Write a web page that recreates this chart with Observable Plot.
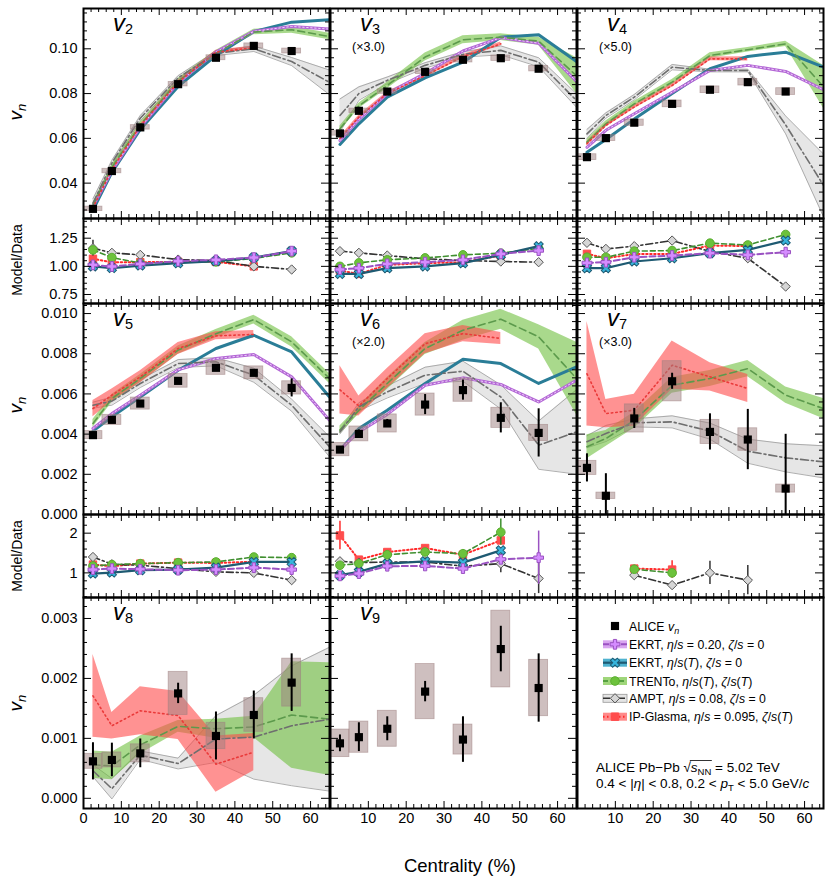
<!DOCTYPE html>
<html><head><meta charset="utf-8">
<script src="https://cdn.jsdelivr.net/npm/d3@7"></script>
<script src="https://cdn.jsdelivr.net/npm/@observablehq/plot@0.6"></script>
<style>
body{margin:0;background:#fff;}
#fig{position:relative;width:831px;height:885px;font-family:"Liberation Sans",Arial,Helvetica,sans-serif;color:#000;overflow:hidden;}
#fig svg{position:absolute;overflow:visible;}
</style></head>
<body><div id="fig"></div>
<script>
// ================= DATA =================
const cent = [2.5, 7.5, 15, 25, 35, 45, 55];
const centModel = [2.5, 7.5, 15, 25, 35, 45, 55, 65];
const centIPG = [2.5, 7.5, 15, 25, 35, 45];
const centR6T = [2.5, 7.5, 15, 25, 35, 45];
const centR7a = [15, 25, 35, 45];
const centR7b = [15, 25];
const xTickLabels = [0, 10, 20, 30, 40, 50, 60];
const xTickLabelsNoZero = [10, 20, 30, 40, 50, 60];
const yTicksRow1 = [0.04, 0.06, 0.08, 0.10];
const yTicksRatio1 = [0.75, 1.00, 1.25];
const yTicksRow2 = [0.000, 0.002, 0.004, 0.006, 0.008, 0.010];
const yTicksRatio2 = [1, 2];
const yTicksRow3 = [0.000, 0.001, 0.002, 0.003];
const panelNames = ["2", "3", "4", "5", "6", "7", "8", "9"];
const scaleNotes = ["", "(\u00d73.0)", "(\u00d75.0)", "", "(\u00d72.0)", "(\u00d73.0)", "", ""];

// v2 (as plotted)
const v2_alice = [0.0285, 0.0454, 0.0649, 0.0842, 0.0960, 0.1013, 0.0990];
const v2_stat  = [0.0002, 0.0002, 0.0002, 0.0002, 0.0003, 0.0003, 0.0005];
const v2_sys   = [0.0010, 0.0010, 0.0010, 0.0010, 0.0011, 0.0011, 0.0011];
const v2_ekrt020 = [0.0295, 0.0455, 0.0650, 0.0848, 0.0985, 0.1078, 0.1100, 0.1088];
const v2_ekrtT   = [0.0280, 0.0448, 0.0640, 0.0832, 0.0970, 0.1077, 0.1119, 0.1130];
const v2_trento  = [0.0300, 0.0470, 0.0660, 0.0855, 0.0980, 0.1075, 0.1085, 0.1055];
const v2_trentoE = [0.0012, 0.0012, 0.0012, 0.0012, 0.0012, 0.0012, 0.0015, 0.0015];
const v2_ampt    = [0.0310, 0.0490, 0.0690, 0.0870, 0.0980, 0.1000, 0.0943, 0.0850];
const v2_amptE   = [0.0020, 0.0012, 0.0012, 0.0010, 0.0010, 0.0012, 0.0018, 0.0055];
const v2_ipg     = [0.0290, 0.0460, 0.0655, 0.0850, 0.0985, 0.1005];
const v2_ipgE    = [0.0008, 0.0008, 0.0008, 0.0008, 0.0008, 0.0008];
// v3 (x3.0, as plotted)
const v3_alice = [0.0622, 0.0723, 0.0809, 0.0897, 0.0951, 0.0958, 0.0911];
const v3_stat  = [0.0003, 0.0003, 0.0003, 0.0003, 0.0003, 0.0004, 0.0005];
const v3_sys   = [0.0010, 0.0010, 0.0010, 0.0010, 0.0012, 0.0012, 0.0012];
const v3_ekrt020 = [0.0590, 0.0685, 0.0800, 0.0890, 0.0990, 0.1050, 0.1025, 0.0854];
const v3_ekrtT   = [0.0573, 0.0665, 0.0784, 0.0870, 0.0940, 0.1052, 0.1063, 0.0943];
const v3_trento  = [0.0643, 0.0745, 0.0836, 0.0963, 0.1040, 0.1052, 0.1034, 0.0880];
const v3_trentoE = [0.0012, 0.0012, 0.0015, 0.0018, 0.0018, 0.0015, 0.0018, 0.0080];
const v3_ampt    = [0.0702, 0.0800, 0.0859, 0.0926, 0.0975, 0.0993, 0.0940, 0.0769];
const v3_amptE   = [0.0074, 0.0030, 0.0015, 0.0012, 0.0012, 0.0020, 0.0020, 0.0030];
const v3_ipg     = [0.0600, 0.0695, 0.0800, 0.0880, 0.0965, 0.1022];
const v3_ipgE    = [0.0008, 0.0008, 0.0008, 0.0008, 0.0008, 0.0008];
// v4 (x5.0, as plotted)
const v4_alice = [0.0516, 0.0601, 0.0670, 0.0754, 0.0817, 0.0851, 0.0809];
const v4_stat  = [0.0003, 0.0003, 0.0003, 0.0003, 0.0004, 0.0005, 0.0006];
const v4_sys   = [0.0013, 0.0013, 0.0014, 0.0015, 0.0015, 0.0015, 0.0015];
const v4_ekrt020 = [0.0560, 0.0636, 0.0710, 0.0806, 0.0903, 0.0926, 0.0899, 0.0817];
const v4_ekrtT   = [0.0538, 0.0595, 0.0686, 0.0800, 0.0911, 0.0966, 0.0985, 0.0918];
const v4_trento  = [0.0583, 0.0665, 0.0754, 0.0851, 0.0970, 0.0996, 0.1022, 0.0830];
const v4_trentoE = [0.0012, 0.0012, 0.0012, 0.0012, 0.0012, 0.0010, 0.0012, 0.0095];
const v4_ampt    = [0.0620, 0.0702, 0.0784, 0.0918, 0.0903, 0.0903, 0.0660, 0.0390];
const v4_amptE   = [0.0020, 0.0012, 0.0012, 0.0012, 0.0006, 0.0006, 0.0040, 0.0140];
const v4_ipg     = [0.0576, 0.0658, 0.0740, 0.0836, 0.0955, 0.0955];
const v4_ipgE    = [0.0010, 0.0008, 0.0008, 0.0008, 0.0008, 0.0010];
// v5
const v5_alice = [0.00395, 0.00471, 0.00552, 0.00665, 0.00730, 0.00705, 0.00630];
const v5_stat  = [0.00005, 0.00005, 0.00005, 0.00006, 0.00008, 0.00010, 0.00045];
const v5_sys   = [0.00020, 0.00025, 0.00030, 0.00034, 0.00035, 0.00032, 0.00033];
const v5_ekrt020 = [0.00428, 0.00502, 0.00594, 0.00720, 0.00776, 0.00796, 0.00685, 0.00469];
const v5_ekrtT   = [0.00415, 0.00486, 0.00585, 0.00718, 0.00826, 0.00892, 0.00809, 0.00585];
const v5_trento  = [0.00453, 0.00577, 0.00677, 0.00818, 0.00900, 0.00970, 0.00859, 0.00677];
const v5_trentoE = [0.00020, 0.00020, 0.00020, 0.00020, 0.00020, 0.00022, 0.00025, 0.00025];
const v5_ampt    = [0.00544, 0.00564, 0.00652, 0.00751, 0.00760, 0.00693, 0.00544, 0.00337];
const v5_amptE   = [0.00015, 0.00020, 0.00020, 0.00020, 0.00020, 0.00035, 0.00030, 0.00050];
const v5_ipg     = [0.00527, 0.00594, 0.00685, 0.00826, 0.00889, 0.00896];
const v5_ipgE    = [0.00040, 0.00030, 0.00030, 0.00030, 0.00020, 0.00020];
// v6 (x2.0, as plotted)
const v6_alice = [0.00323, 0.00401, 0.00453, 0.00547, 0.00619, 0.00481, 0.00406];
const v6_stat  = [0.00010, 0.00020, 0.00020, 0.00050, 0.00050, 0.00075, 0.00120];
const v6_sys   = [0.00033, 0.00037, 0.00045, 0.00055, 0.00058, 0.00050, 0.00040];
const v6_ekrt020 = [0.00323, 0.00411, 0.00498, 0.00643, 0.00680, 0.00647, 0.00560, 0.00668];
const v6_ekrtT   = [0.00320, 0.00428, 0.00519, 0.00652, 0.00773, 0.00751, 0.00652, 0.00735];
const v6_trento  = [0.00420, 0.00519, 0.00652, 0.00826, 0.00917, 0.00972, 0.00884, 0.00677];
const v6_trentoE = [0.00020, 0.00020, 0.00030, 0.00030, 0.00050, 0.00050, 0.00060, 0.00180];
const v6_ampt    = [0.00411, 0.00536, 0.00610, 0.00693, 0.00713, 0.00585, 0.00345, 0.00411];
const v6_amptE   = [0.00010, 0.00020, 0.00030, 0.00040, 0.00050, 0.00060, 0.00120, 0.00210];
const v6_ipg     = [0.00620, 0.00540, 0.00677, 0.00850, 0.00900, 0.00876];
const v6_ipgE    = [0.00120, 0.00050, 0.00050, 0.00050, 0.00040, 0.00030];
// v7 (x3.0, as plotted)
const v7_alice = [0.00232, 0.00093, 0.00478, 0.00663, 0.00411, 0.00373, 0.00129];
const v7_stat  = [0.00070, 0.00110, 0.00050, 0.00040, 0.00090, 0.00150, 0.00270];
const v7_sys   = [0.00035, 0.00016, 0.00070, 0.00100, 0.00060, 0.00056, 0.00020];
const v7_trento  = [0.00337, 0.00378, 0.00469, 0.00643, 0.00677, 0.00726, 0.00594, 0.00527];
const v7_trentoE = [0.00060, 0.00040, 0.00040, 0.00040, 0.00040, 0.00040, 0.00040, 0.00050];
const v7_ampt    = [0.00362, 0.00403, 0.00456, 0.00461, 0.00415, 0.00315, 0.00282, 0.00262];
const v7_amptE   = [0.00030, 0.00040, 0.00020, 0.00030, 0.00040, 0.00060, 0.00070, 0.00080];
const v7_ipg     = [0.00700, 0.00502, 0.00519, 0.00743, 0.00685, 0.00627];
const v7_ipgE    = [0.00260, 0.00070, 0.00080, 0.00120, 0.00070, 0.00070];
// v8
const v8_alice = [0.000617, 0.00064, 0.00075, 0.00175, 0.00104, 0.00139, 0.00193];
const v8_stat  = [0.00031, 0.00028, 0.00024, 0.00017, 0.00040, 0.00040, 0.00048];
const v8_sys   = [0.000125, 0.000125, 0.00015, 0.00036, 0.00022, 0.00028, 0.00040];
const v8_trento  = [0.00056, 0.00054, 0.00089, 0.00120, 0.00116, 0.00119, 0.00139, 0.00132];
const v8_trentoE = [0.00023, 0.00023, 0.00015, 0.00010, 0.00016, 0.00018, 0.00089, 0.00094];
const v8_ampt    = [0.00046, 0.00016, 0.00072, 0.00058, 0.00099, 0.00102, 0.00121, 0.00132];
const v8_amptE   = [0.00010, 0.00017, 0.00007, 0.00009, 0.00039, 0.00070, 0.00100, 0.00120];
const v8_ipg     = [0.00171, 0.00121, 0.00146, 0.00138, 0.00057, 0.00077];
const v8_ipgE    = [0.00069, 0.00022, 0.00040, 0.00040, 0.00047, 0.00031];
// v9
const v9_alice = [0.000917, 0.00102, 0.00116, 0.00178, 0.00098, 0.00249, 0.00184];
const v9_stat  = [0.00014, 0.00024, 0.00020, 0.00017, 0.00038, 0.00038, 0.00057];
const v9_sys   = [0.00023, 0.00026, 0.00030, 0.00046, 0.00025, 0.00064, 0.00047];

// Model/Data ratios
const r2_ekrt020 = [1.013, 0.999, 1.022, 1.046, 1.058, 1.078, 1.135];
const r2_ekrtT   = [1.000, 0.985, 1.007, 1.028, 1.046, 1.078, 1.135];
const r2_trento  = [1.146, 1.078, 1.030, 1.035, 1.040, 1.070, 1.120];
const r2_ampt    = [1.161, 1.120, 1.102, 1.060, 1.052, 1.000, 0.972];
const r2_amptE   = [0.070, 0, 0, 0, 0, 0, 0];
const r2_ipg     = [1.067, 1.037, 1.037, 1.040, 1.040, 1.000];
const r3_ekrt020 = [0.972, 0.984, 1.022, 1.037, 1.058, 1.111, 1.140];
const r3_ekrtT   = [0.933, 0.933, 0.984, 0.999, 1.028, 1.102, 1.179];
const r3_trento  = [1.000, 1.031, 1.058, 1.075, 1.102, 1.117, 1.160];
const r3_ampt    = [1.135, 1.120, 1.096, 1.067, 1.052, 1.043, 1.037];
const r3_ipg     = [0.963, 0.933, 1.013, 1.028, 1.037, 1.096];
const r4_ekrt020 = [1.031, 1.037, 1.081, 1.096, 1.117, 1.102, 1.126];
const r4_ekrtT   = [0.984, 0.984, 1.043, 1.072, 1.117, 1.146, 1.229];
const r4_trento  = [1.081, 1.081, 1.135, 1.140, 1.206, 1.190, 1.283];
const r4_ampt    = [1.209, 1.155, 1.179, 1.229, 1.132, 1.072, 0.821];
const r4_ipg     = [1.111, 1.072, 1.110, 1.110, 1.185, 1.180];
const r5_ekrt020 = [1.083, 1.108, 1.092, 1.067, 1.083, 1.133, 1.083];
const r5_ekrtT   = [0.983, 1.008, 1.067, 1.083, 1.133, 1.275, 1.275];
const r5_trento  = [1.175, 1.208, 1.233, 1.258, 1.275, 1.400, 1.383];
const r5_ampt    = [1.400, 1.217, 1.192, 1.108, 1.025, 1.000, 0.817];
const r5_ipg     = [1.208, 1.167, 1.233, 1.258, 1.250, 1.280];
const r6_ekrt020 = [0.925, 0.983, 1.167, 1.175, 1.108, 1.342, 1.383];
const r6_ekrt020E = [0, 0, 0, 0, 0, 0.08, 0.67];
const r6_ekrtT   = [0.942, 1.025, 1.233, 1.292, 1.258, 1.567];
const r6_trento  = [1.192, 1.233, 1.458, 1.525, 1.483, 2.025];
const r6_trentoE = [0.05, 0.05, 0.05, 0.06, 0.08, 0.33];
const r6_ampt    = [1.292, 1.258, 1.275, 1.275, 1.167, 1.233, 0.858];
const r6_amptE   = [0, 0, 0, 0, 0, 0.23, 0.38];
const r6_ipg     = [1.942, 1.333, 1.525, 1.625, 1.458, 1.817];
const r6_ipgE    = [0.36, 0.06, 0.06, 0.08, 0.08, 0.08];
const r7_ampt    = [0.942, 0.692, 1.000, 0.817];
const r7_amptE   = [0.08, 0.08, 0.29, 0.37];
const r7_ipg     = [1.108, 1.083];
const r7_ipgE    = [0.08, 0.22];
const r7_trento  = [1.092, 1.000];
const r7_trentoE = [0.10, 0.05];

// Legend
const legendKeys = ["alice", "ekrt020", "ekrtT", "trento", "ampt", "ipg"];
const legendLabels = [
  ["ALICE ", {t: "v", i: 1}, {t: "n", i: 1, sub: 1}],
  ["EKRT, ", {t: "\u03b7", i: 1}, "/", {t: "s", i: 1}, " = 0.20, ", {t: "\u03b6", i: 1}, "/", {t: "s", i: 1}, " = 0"],
  ["EKRT, ", {t: "\u03b7", i: 1}, "/", {t: "s", i: 1}, "(", {t: "T", i: 1}, "), ", {t: "\u03b6", i: 1}, "/", {t: "s", i: 1}, " = 0"],
  ["TRENTo, ", {t: "\u03b7", i: 1}, "/", {t: "s", i: 1}, "(", {t: "T", i: 1}, "), ", {t: "\u03b6", i: 1}, "/", {t: "s", i: 1}, "(", {t: "T", i: 1}, ")"],
  ["AMPT, ", {t: "\u03b7", i: 1}, "/", {t: "s", i: 1}, " = 0.08, ", {t: "\u03b6", i: 1}, "/", {t: "s", i: 1}, " = 0"],
  ["IP-Glasma, ", {t: "\u03b7", i: 1}, "/", {t: "s", i: 1}, " = 0.095, ", {t: "\u03b6", i: 1}, "/", {t: "s", i: 1}, "(", {t: "T", i: 1}, ")"]
];

// ================= STYLE =================
const FONT = '"Liberation Sans", Arial, Helvetica, sans-serif';
const C = {
  teal: "#2a7d97", purple: "#b468d6", purpleIn: "#f0d6fb",
  green: "#6fc040", greenLine: "#5c9a4c",
  gray: "#e2e2e2", grayEdge: "#9a9a9a", grayLine: "#6e6e6e",
  red: "#ff4a4a", redLine: "#ea3a3a", box: "#9e8080"
};
const RS = {
  ipg:     {line: "#ff2a2a", lw: 2, dash: "1.5,2.5", symbol: "square", r: 4.2, fill: "#ff4d4d", stroke: "#ff4d4d"},
  ampt:    {line: "#333333", lw: 1.6, dash: "7,3,2,3", symbol: "diamond2", r: 4.2, fill: "#d6d6d6", stroke: "#555555"},
  trento:  {line: "#3f8f2f", lw: 1.6, dash: "5,3", symbol: "circle", r: 4.3, fill: "#6cc23c", stroke: "#5aae30"},
  ekrtT:   {line: "#1e5a72", lw: 2.2, dash: null, symbol: "cross", rotate: 45, r: 4.1, fill: "#36b4dc", stroke: "#1e5a72"},
  ekrt020: {line: "#9a52c2", lw: 2, dash: "6,3", symbol: "cross", r: 4.1, fill: "#d58cff", stroke: "#9a52c2"}
};

const fig = document.getElementById("fig");
const PW = 246;
const COLX = [83, 330, 577];
const ROWS = [{y: 8, h: 210}, {y: 218, h: 85}, {y: 303, h: 211}, {y: 514, h: 83}, {y: 597, h: 211}];
const YDOM = [[0.0242, 0.118], [0.67, 1.425], [0, 0.0105], [0.38, 2.47], [-0.00017, 0.00335]];

// ================= HELPERS =================
const T = (xs, v, e) => xs.map((c, i) => ({c, v: v[i], e: e ? e[i] : 0}));
function minors(lo, hi, step, major) {
  const out = [];
  for (let k = Math.ceil(lo / step - 1e-9); k * step <= hi + 1e-12; k++) {
    const v = k * step;
    if (Math.abs(v / major - Math.round(v / major)) > 1e-6) out.push(v);
  }
  return out;
}
function majors(lo, hi, step) {
  const out = [];
  for (let k = Math.ceil(lo / step - 1e-9); k * step <= hi + 1e-12; k++) out.push(k * step);
  return out;
}
function bandMarks(xs, v, e, fill, op, edge) {
  const d = T(xs, v, e);
  const m = [Plot.areaY(d, {x: "c", y1: r => r.v - r.e, y2: r => r.v + r.e, fill, fillOpacity: op, clip: true})];
  if (edge) {
    m.push(Plot.line(d, {x: "c", y: r => r.v - r.e, stroke: edge, strokeWidth: 0.8, clip: true}));
    m.push(Plot.line(d, {x: "c", y: r => r.v + r.e, stroke: edge, strokeWidth: 0.8, clip: true}));
  }
  return m;
}
const lineMark = (xs, v, o) => Plot.line(T(xs, v), {x: "c", y: "v", clip: true, ...o});
function modelMarks(m) {
  const out = [];
  if (m.ampt) out.push(...bandMarks(centModel, m.ampt, m.amptE, C.gray, 0.85, C.grayEdge));
  if (m.trento) out.push(...bandMarks(centModel, m.trento, m.trentoE, C.green, 0.6, null));
  if (m.ipg) out.push(...bandMarks(centIPG, m.ipg, m.ipgE, C.red, 0.6, null));
  if (m.ekrtT) out.push(lineMark(centModel, m.ekrtT, {stroke: C.teal, strokeWidth: 3}));
  if (m.ekrt020) {
    out.push(lineMark(centModel, m.ekrt020, {stroke: C.purple, strokeWidth: 3}));
    out.push(lineMark(centModel, m.ekrt020, {stroke: C.purpleIn, strokeWidth: 1, strokeDasharray: "1.5,2.5"}));
  }
  if (m.trento) out.push(lineMark(centModel, m.trento, {stroke: C.greenLine, strokeWidth: 1.6, strokeDasharray: "7,4"}));
  if (m.ampt) out.push(lineMark(centModel, m.ampt, {stroke: C.grayLine, strokeWidth: 1.6, strokeDasharray: "8,3,2,3"}));
  if (m.ipg) out.push(lineMark(centIPG, m.ipg, {stroke: C.redLine, strokeWidth: 1.6, strokeDasharray: "1.5,3"}));
  return out;
}
function dataMarks(v, stat, sys) {
  const d = cent.map((c, i) => ({c, v: v[i], s: stat[i], y: sys[i]}));
  return [
    Plot.rect(d, {x1: r => r.c - 2.5, x2: r => r.c + 2.5, y1: r => r.v - r.y, y2: r => r.v + r.y,
      fill: C.box, fillOpacity: 0.5, stroke: C.box, strokeOpacity: 0.6, strokeWidth: 0.8, clip: true}),
    Plot.ruleX(d, {x: "c", y1: r => r.v - r.s, y2: r => r.v + r.s, stroke: "black", strokeWidth: 2, clip: true}),
    Plot.dot(d, {x: "c", y: "v", symbol: "square", r: 4.6, fill: "black", clip: true})
  ];
}
function ratioSeries(xs, v, e, st) {
  const d = xs.map((c, i) => ({c, v: v[i], e: e ? e[i] : 0}));
  const m = [Plot.line(d, {x: "c", y: "v", stroke: st.line, strokeWidth: st.lw, strokeDasharray: st.dash || undefined, clip: true})];
  if (e) m.push(Plot.ruleX(d.filter(r => r.e > 0), {x: "c", y1: r => r.v - r.e, y2: r => r.v + r.e, stroke: st.line, strokeWidth: 1.5, clip: true}));
  m.push(Plot.dot(d, {x: "c", y: "v", symbol: st.symbol, r: st.r, fill: st.fill, stroke: st.stroke, strokeWidth: 1, rotate: st.rotate || 0, clip: true}));
  return m;
}
function ratioMarks(m) {
  const out = [];
  if (m.ipg) out.push(...ratioSeries(m.ipgX || centIPG, m.ipg, m.ipgE, RS.ipg));
  if (m.ampt) out.push(...ratioSeries(m.amptX || cent, m.ampt, m.amptE, RS.ampt));
  if (m.trento) out.push(...ratioSeries(m.trentoX || cent, m.trento, m.trentoE, RS.trento));
  if (m.ekrtT) out.push(...ratioSeries(m.ekrtTX || cent, m.ekrtT, m.ekrtTE, RS.ekrtT));
  if (m.ekrt020) out.push(...ratioSeries(cent, m.ekrt020, m.ekrt020E, RS.ekrt020));
  return out;
}

const Y_SPEC = [
  {maj: 0.02, min: 0.004, labels: yTicksRow1, fmt: d3.format(".2f")},
  {maj: 0.25, min: 0.05, labels: yTicksRatio1, fmt: d3.format(".2f")},
  {maj: 0.002, min: 0.0004, labels: yTicksRow2, fmt: d3.format(".3f")},
  {maj: 1, min: 0.2, labels: yTicksRatio2, fmt: d3.format("d")},
  {maj: 0.001, min: 0.0002, labels: yTicksRow3, fmt: d3.format(".3f")}
];

function addPanel(col, row, marks, opt = {}) {
  const x0 = COLX[col], W = PW, y0 = ROWS[row].y, H = ROWS[row].h;
  const ydom = YDOM[row], ys = Y_SPEC[row];
  const mL = col === 0 ? 83 : 2, mR = 2, mT = 2, mB = row === 4 ? 30 : 2;
  const all = [...marks];
  const xMaj = majors(0, 65, 10), xMin = minors(0, 65, 2, 10);
  all.push(Plot.tickX(xMaj, {x: d => d, insetTop: H - 7, stroke: "black"}));
  all.push(Plot.tickX(xMaj, {x: d => d, insetBottom: H - 7, stroke: "black"}));
  all.push(Plot.tickX(xMin, {x: d => d, insetTop: H - 4, stroke: "black"}));
  all.push(Plot.tickX(xMin, {x: d => d, insetBottom: H - 4, stroke: "black"}));
  if (!opt.noY) {
    const yMaj = majors(ydom[0], ydom[1], ys.maj), yMin = minors(ydom[0], ydom[1], ys.min, ys.maj);
    all.push(Plot.tickY(yMaj, {y: d => d, insetRight: W - 8, stroke: "black"}));
    all.push(Plot.tickY(yMaj, {y: d => d, insetLeft: W - 8, stroke: "black"}));
    all.push(Plot.tickY(yMin, {y: d => d, insetRight: W - 4, stroke: "black"}));
    all.push(Plot.tickY(yMin, {y: d => d, insetLeft: W - 4, stroke: "black"}));
  }
  all.push(Plot.frame({stroke: "black", strokeWidth: 2}));
  if (col === 0) all.push(Plot.text(ys.labels, {y: d => d, text: d => ys.fmt(d), frameAnchor: "left", dx: -6, textAnchor: "end", fontSize: 14.5}));
  if (row === 4) all.push(Plot.text(col === 0 ? xTickLabels : xTickLabelsNoZero, {x: d => d, text: d => String(d), frameAnchor: "bottom", dy: 14, fontSize: 14.5}));
  const svg = Plot.plot({
    width: W + mL + mR, height: H + mT + mB,
    marginLeft: mL, marginRight: mR, marginTop: mT, marginBottom: mB,
    x: {domain: [0, 65], axis: null},
    y: {domain: ydom, axis: null},
    style: {background: "transparent", overflow: "visible", fontFamily: FONT, fontSize: "14.5px", color: "black"},
    marks: all
  });
  svg.style.position = "absolute";
  svg.style.left = (x0 - mL) + "px";
  svg.style.top = (y0 - mT) + "px";
  svg.style.maxWidth = "none";
  fig.appendChild(svg);
}

// ================= PANELS =================
addPanel(0, 0, [...modelMarks({ampt: v2_ampt, amptE: v2_amptE, trento: v2_trento, trentoE: v2_trentoE, ipg: v2_ipg, ipgE: v2_ipgE, ekrtT: v2_ekrtT, ekrt020: v2_ekrt020}), ...dataMarks(v2_alice, v2_stat, v2_sys)]);
addPanel(1, 0, [...modelMarks({ampt: v3_ampt, amptE: v3_amptE, trento: v3_trento, trentoE: v3_trentoE, ipg: v3_ipg, ipgE: v3_ipgE, ekrtT: v3_ekrtT, ekrt020: v3_ekrt020}), ...dataMarks(v3_alice, v3_stat, v3_sys)]);
addPanel(2, 0, [...modelMarks({ampt: v4_ampt, amptE: v4_amptE, trento: v4_trento, trentoE: v4_trentoE, ipg: v4_ipg, ipgE: v4_ipgE, ekrtT: v4_ekrtT, ekrt020: v4_ekrt020}), ...dataMarks(v4_alice, v4_stat, v4_sys)]);

addPanel(0, 1, ratioMarks({ipg: r2_ipg, ampt: r2_ampt, amptE: r2_amptE, trento: r2_trento, ekrtT: r2_ekrtT, ekrt020: r2_ekrt020}));
addPanel(1, 1, ratioMarks({ipg: r3_ipg, ampt: r3_ampt, trento: r3_trento, ekrtT: r3_ekrtT, ekrt020: r3_ekrt020}));
addPanel(2, 1, ratioMarks({ipg: r4_ipg, ampt: r4_ampt, trento: r4_trento, ekrtT: r4_ekrtT, ekrt020: r4_ekrt020}));

addPanel(0, 2, [...modelMarks({ampt: v5_ampt, amptE: v5_amptE, trento: v5_trento, trentoE: v5_trentoE, ipg: v5_ipg, ipgE: v5_ipgE, ekrtT: v5_ekrtT, ekrt020: v5_ekrt020}), ...dataMarks(v5_alice, v5_stat, v5_sys)]);
addPanel(1, 2, [...modelMarks({ampt: v6_ampt, amptE: v6_amptE, trento: v6_trento, trentoE: v6_trentoE, ipg: v6_ipg, ipgE: v6_ipgE, ekrtT: v6_ekrtT, ekrt020: v6_ekrt020}), ...dataMarks(v6_alice, v6_stat, v6_sys)]);
addPanel(2, 2, [...modelMarks({ampt: v7_ampt, amptE: v7_amptE, trento: v7_trento, trentoE: v7_trentoE, ipg: v7_ipg, ipgE: v7_ipgE}), ...dataMarks(v7_alice, v7_stat, v7_sys)]);

addPanel(0, 3, ratioMarks({ipg: r5_ipg, ampt: r5_ampt, trento: r5_trento, ekrtT: r5_ekrtT, ekrt020: r5_ekrt020}));
addPanel(1, 3, ratioMarks({ipg: r6_ipg, ipgE: r6_ipgE, ampt: r6_ampt, amptE: r6_amptE, trento: r6_trento, trentoE: r6_trentoE, trentoX: centIPG, ekrtT: r6_ekrtT, ekrtTX: centR6T, ekrt020: r6_ekrt020, ekrt020E: r6_ekrt020E}));
addPanel(2, 3, ratioMarks({ipg: r7_ipg, ipgE: r7_ipgE, ipgX: centR7b, ampt: r7_ampt, amptE: r7_amptE, amptX: centR7a, trento: r7_trento, trentoE: r7_trentoE, trentoX: centR7b}));

addPanel(0, 4, [...modelMarks({ampt: v8_ampt, amptE: v8_amptE, trento: v8_trento, trentoE: v8_trentoE, ipg: v8_ipg, ipgE: v8_ipgE}), ...dataMarks(v8_alice, v8_stat, v8_sys)]);
addPanel(1, 4, [...dataMarks(v9_alice, v9_stat, v9_sys)]);
addPanel(2, 4, [], {noY: true});

// ================= TEXT OVERLAY =================
const ov = d3.select(fig).append("svg")
  .attr("width", 831).attr("height", 885)
  .style("left", "0px").style("top", "0px").style("pointer-events", "none")
  .style("font-family", FONT).attr("fill", "black");

function rich(x, y, parts, fs, opt = {}) {
  const t = ov.append("text").attr("x", x).attr("y", y).attr("font-size", fs)
    .attr("text-anchor", opt.anchor || "start");
  if (opt.rotate) t.attr("transform", `rotate(${opt.rotate},${x},${y})`);
  let cur = 0;
  for (const p of parts) {
    const o = typeof p === "string" ? {t: p} : p;
    const off = o.sub ? (opt.subShift != null ? opt.subShift : fs * 0.28) : 0;
    const ts = t.append("tspan").text(o.t).attr("dy", off - cur);
    cur = off;
    if (o.i) ts.attr("font-style", "italic");
    if (o.sub) ts.attr("font-size", opt.subSize || fs * 0.7);
  }
  return t;
}

// panel labels
const labelRowY = [31, 326, 620];
panelNames.forEach((n, k) => {
  const col = k % 3, rr = Math.floor(k / 3);
  const x = COLX[col] + 30;
  rich(x, labelRowY[rr], [{t: "v", i: 1}, {t: n, sub: 1}], 24, {subShift: 2.5, subSize: 14.5});
  if (scaleNotes[k]) rich(COLX[col] + 22, labelRowY[rr] + 20, [scaleNotes[k]], 12.5);
});

// axis titles
[112, 405, 703].forEach(y => rich(22, y, [{t: "v", i: 1}, {t: "n", i: 1, sub: 1}], 19, {anchor: "middle", rotate: -90, subShift: 4, subSize: 13}));
[260, 556].forEach(y => rich(22, y, ["Model/Data"], 14, {anchor: "middle", rotate: -90}));
rich(460, 872, ["Centrality (%)"], 18.5, {anchor: "middle"});

// caption
const cap = rich(596, 772, ["ALICE Pb\u2212Pb \u221a", {t: "s", i: 1}, {t: "NN", sub: 1}, " = 5.02 TeV"], 13.5, {subShift: 3, subSize: 9.5});
try {
  const n = cap.node();
  const xa = n.getStartPositionOfChar(13).x, xb = n.getEndPositionOfChar(15).x;
  ov.append("line").attr("x1", xa - 1).attr("x2", xb + 0.5).attr("y1", 772 - 11.5).attr("y2", 772 - 11.5)
    .attr("stroke", "black").attr("stroke-width", 0.8);
} catch (e) {}
rich(596, 788, ["0.4 < |", {t: "\u03b7", i: 1}, "| < 0.8, 0.2 < ", {t: "p", i: 1}, {t: "T", sub: 1}, " < 5.0 GeV/", {t: "c", i: 1}], 13.5, {subShift: 3, subSize: 9.5});

// legend
const legY = [626, 644.3, 662.7, 681, 698.3, 716.7];
const sym = (name, r) => d3.symbol(({square: d3.symbolSquare, diamond2: d3.symbolDiamond2, circle: d3.symbolCircle, cross: d3.symbolCross})[name], r * r * Math.PI)();
legendKeys.forEach((k, i) => {
  const y = legY[i], cx = 615;
  if (k === "alice") {
    ov.append("path").attr("d", sym("square", 4.6)).attr("transform", `translate(${cx},${y})`).attr("fill", "black");
  } else {
    const st = RS[k];
    const bandFill = {ekrt020: "#d9a6f0", ekrtT: "#4fb2cf", trento: "#9fd67a", ampt: "#e4e4e4", ipg: "#ff8a8a"}[k];
    ov.append("rect").attr("x", 603).attr("y", y - 4).attr("width", 24).attr("height", 8)
      .attr("fill", bandFill).attr("stroke", k === "ampt" ? "#999" : "none").attr("stroke-width", 0.8);
    ov.append("line").attr("x1", 603).attr("x2", 627).attr("y1", y).attr("y2", y)
      .attr("stroke", st.line).attr("stroke-width", st.lw).attr("stroke-dasharray", st.dash || null);
    ov.append("path").attr("d", sym(st.symbol, st.r))
      .attr("transform", `translate(${cx},${y}) rotate(${st.rotate || 0})`)
      .attr("fill", st.fill).attr("stroke", st.stroke).attr("stroke-width", 1);
  }
  rich(629, y + 4.5, legendLabels[i], 12.3, {subShift: 3, subSize: 9});
});
</script>
</body></html>
